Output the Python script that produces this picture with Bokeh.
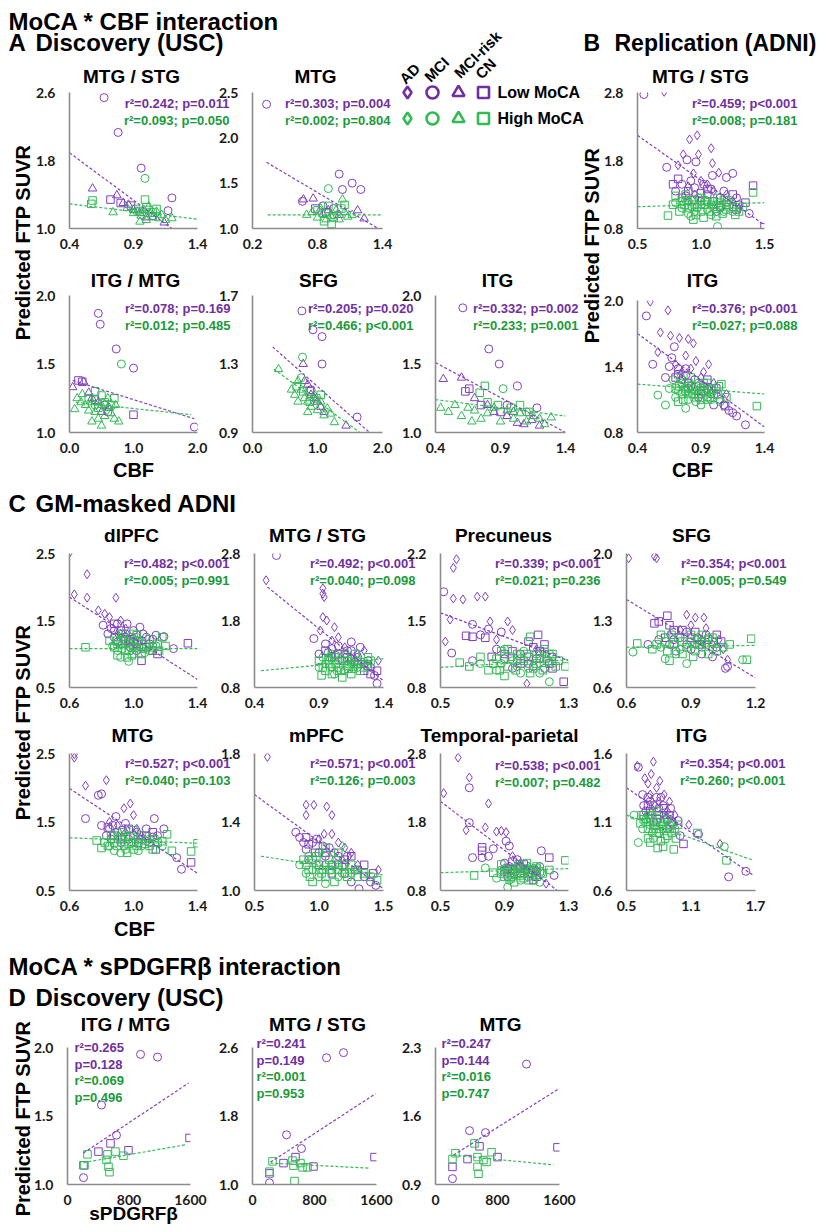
import math
from bokeh.plotting import figure
from bokeh.models import Range1d, FixedTicker, PrintfTickFormatter, Label
from bokeh.embed import file_html
from bokeh.resources import INLINE

# ---------------------------------------------------------------- data
# groups: lo = Low MoCA (purple), hi = High MoCA (green)
# classes: AD = diamond, MCI = circle, RISK = MCI-risk triangle, CN = square

# ---- A1  Discovery (USC)  MTG / STG
A1_lo_MCI = [(0.67,2.54),(0.78,2.13),(0.96,1.71),(1.20,1.36),(1.17,1.21),(1.05,1.15)]
A1_lo_RISK = [(0.58,1.47),(0.77,1.39),(0.82,1.30),(0.86,1.28),(0.95,1.18),(1.00,1.13),(1.14,1.07),(0.90,1.22)]
A1_lo_CN = [(0.72,1.34),(0.80,1.30),(0.88,1.27)]
A1_hi_MCI = [(0.99,1.59),(1.02,1.22)]
A1_hi_RISK = [(0.74,1.19),(0.85,1.24),(0.90,1.18),(0.93,1.20),(0.96,1.15),(0.98,1.22),(1.00,1.10),(1.03,1.17),
              (1.05,1.13),(1.08,1.20),(1.10,1.12),(1.12,1.16),(1.15,1.10),(1.20,1.12),(0.95,1.08),(1.02,1.26)]
A1_hi_CN = [(0.57,1.29),(0.58,1.33),(0.99,1.34),(0.95,1.20),(1.00,1.25),(1.05,1.19),(1.08,1.23),(0.92,1.23)]
A1_fit_lo = [(0.40,1.89),(1.20,1.00)]
A1_fit_hi = [(0.40,1.29),(1.40,1.11)]
A1_stats = ["r²=0.242; p=0.011", "r²=0.093; p=0.050"]

# ---- A2  Discovery (USC)  MTG
A2_lo_MCI = [(0.33,2.37),(1.00,1.60),(1.12,1.50),(1.03,1.43),(1.20,1.43),(0.66,1.30),(0.85,1.25),(0.95,1.22)]
A2_lo_RISK = [(0.67,1.32),(0.76,1.33),(1.17,1.20),(1.23,1.11),(0.90,1.20),(1.00,1.15)]
A2_lo_CN = [(0.78,1.22),(0.88,1.18)]
A2_hi_MCI = [(0.90,1.44),(0.95,1.15)]
A2_hi_RISK = [(1.03,1.32),(0.70,1.15),(0.75,1.18),(0.80,1.12),(0.85,1.16),(0.88,1.10),(0.92,1.14),(0.97,1.20),
              (1.00,1.10),(1.05,1.18),(1.08,1.13),(0.83,1.22),(1.12,1.15)]
A2_hi_CN = [(0.80,1.20),(0.90,1.25),(0.95,1.12),(1.02,1.22),(1.05,1.26),(0.86,1.08),(0.93,1.05)]
A2_fit_lo = [(0.33,1.73),(1.36,1.00)]
A2_fit_hi = [(0.34,1.15),(1.39,1.15)]
A2_stats = ["r²=0.303; p=0.004", "r²=0.002; p=0.804"]

# ---- A3  Discovery (USC)  ITG / MTG
A3_lo_MCI = [(0.45,1.87),(0.48,1.79),(0.73,1.61),(1.00,1.47),(1.95,1.04),(0.55,1.20),(0.60,1.15)]
A3_lo_RISK = [(0.22,1.37),(0.05,1.33),(0.30,1.29),(0.35,1.25),(0.45,1.22),(0.50,1.15),(0.62,1.18)]
A3_lo_CN = [(0.14,1.38),(0.20,1.37),(1.00,1.13),(0.40,1.24)]
A3_hi_MCI = [(0.81,1.50),(0.40,1.20)]
A3_hi_RISK = [(0.08,1.17),(0.77,1.08),(0.12,1.25),(0.18,1.22),(0.25,1.20),(0.30,1.16),(0.35,1.22),(0.40,1.15),
              (0.45,1.10),(0.50,1.20),(0.55,1.12),(0.60,1.18),(0.65,1.14),(0.70,1.10),(0.72,1.20),(0.35,1.08),
              (0.20,1.28),(0.60,1.25),(0.50,1.05)]
A3_hi_CN = [(0.30,1.25),(0.45,1.18),(0.55,1.22),(0.65,1.20),(0.70,1.25),(0.40,1.30),(0.50,1.27)]
A3_fit_lo = [(0.05,1.38),(1.95,1.10)]
A3_fit_hi = [(0.10,1.22),(1.90,1.13)]
A3_stats = ["r²=0.078; p=0.169", "r²=0.012; p=0.485"]

# ---- A4  Discovery (USC)  SFG
A4_lo_MCI = [(0.76,1.61),(0.93,1.50),(1.07,1.46),(1.07,1.30),(1.61,0.99),(0.90,1.15)]
A4_lo_RISK = [(0.78,1.30),(1.44,0.94),(0.80,1.20),(0.90,1.12),(1.00,1.08),(1.05,1.05),(0.85,1.18),(0.95,1.10),(1.10,1.02)]
A4_lo_CN = [(0.88,1.14)]
A4_hi_MCI = [(0.77,1.34),(0.75,1.22)]
A4_hi_RISK = [(0.40,1.27),(1.26,0.96),(0.60,1.15),(0.65,1.12),(0.70,1.20),(0.75,1.15),(0.80,1.10),(0.85,1.08),
              (0.90,1.05),(0.95,1.12),(1.00,1.03),(1.05,1.08),(1.10,1.00),(1.15,1.04),(1.20,1.01),(0.70,1.08),(0.85,1.02)]
A4_hi_CN = [(0.68,1.17),(0.78,1.14),(0.88,1.08),(0.98,1.10),(1.05,1.12)]
A4_fit_lo = [(0.31,1.40),(1.80,0.90)]
A4_fit_hi = [(0.33,1.27),(1.65,0.90)]
A4_stats = ["r²=0.205; p=0.020", "r²=0.466; p<0.001"]

# ---- A5  Discovery (USC)  ITG
A5_lo_MCI = [(0.61,1.91),(0.81,1.61),(0.89,1.50),(1.03,1.34),(1.18,1.18),(0.95,1.20)]
A5_lo_RISK = [(0.46,1.39),(0.60,1.40),(1.03,1.07),(1.08,1.06),(1.14,1.09),(0.70,1.25),(0.85,1.15),(0.95,1.12),
              (1.00,1.15),(0.80,1.20),(1.20,1.05)]
A5_lo_CN = [(0.63,1.30),(0.66,1.32),(0.75,1.20),(0.90,1.15)]
A5_hi_MCI = [(0.92,1.32),(1.10,1.15)]
A5_hi_RISK = [(0.44,1.18),(0.65,1.18),(1.24,1.06),(1.29,1.11),(0.50,1.15),(0.55,1.20),(0.60,1.12),(0.70,1.16),
              (0.75,1.10),(0.80,1.14),(0.85,1.18),(0.90,1.08),(0.95,1.16),(1.00,1.10),(1.05,1.14),(1.10,1.08),
              (1.15,1.12),(1.20,1.10),(0.68,1.08)]
A5_hi_CN = [(0.78,1.34),(0.74,1.29),(0.80,1.22),(0.88,1.20),(0.98,1.18),(1.05,1.20),(1.12,1.15)]
A5_fit_lo = [(0.40,1.51),(1.40,1.00)]
A5_fit_hi = [(0.40,1.24),(1.40,1.12)]
A5_stats = ["r²=0.332; p=0.002", "r²=0.233; p=0.001"]

# ---- B1  Replication (ADNI)  MTG / STG
B1_lo_AD = [(0.71,2.81),(0.97,2.17),(0.91,2.11),(1.08,1.98),(0.86,1.89),(0.98,1.89),(0.82,1.73),(1.09,1.76),
            (1.14,1.62),(0.94,1.61),(1.00,1.50),(1.05,1.45),(0.90,1.42),(1.20,1.30),(1.10,1.35),(0.95,1.30),
            (1.25,1.20),(1.30,1.10)]
B1_lo_MCI = [(0.55,2.77),(0.73,1.70),(0.89,1.81),(0.96,1.78),(1.09,1.58),(1.25,1.61),(1.20,1.55),(0.85,1.45),
             (0.95,1.40),(1.05,1.30),(1.15,1.25),(1.38,1.02),(1.00,1.20),(1.30,1.15),(1.12,1.05),
             (0.80,1.35),(0.92,1.50),(1.02,1.45),(1.08,1.38),(1.18,1.35),(1.28,1.25),(0.88,1.28)]
B1_lo_CN = [(0.82,1.53),(1.41,1.43),(1.50,0.82),(0.90,1.35),(1.00,1.32),(1.10,1.20),(1.20,1.15),(1.28,1.08),
            (0.85,1.25),(1.15,1.12),(0.78,1.45),(0.95,1.22),(1.05,1.38),(1.25,1.30),(1.35,1.18)]
B1_hi_MCI = [(1.13,0.83),(0.85,1.10),(0.90,1.20),(0.95,1.05),(1.00,1.15),(1.05,1.08),(1.10,1.20),(1.15,1.10),
             (1.20,1.18),(0.98,1.25),(1.08,1.00),(0.92,0.98),(1.25,1.05),
             (0.80,1.18),(0.88,1.22),(0.93,1.12),(1.03,1.22),(1.08,1.15),(1.12,1.15),(1.18,1.05),(1.22,1.22),(0.90,1.02)]
B1_hi_CN = [(1.41,1.33),(0.74,0.99),(0.94,0.93),(1.02,0.96),(1.12,0.98),(0.85,1.20),(0.90,1.10),(0.95,1.15),
            (1.00,1.05),(1.05,1.20),(1.10,1.12),(1.15,1.18),(1.20,1.08),(1.25,1.12),(1.30,1.05),(0.80,1.28),
            (0.88,1.30),(1.00,1.25),(1.18,1.22),(0.78,1.15),(0.83,1.05),(0.87,1.15),(0.93,1.22),(0.97,1.12),
            (1.03,1.15),(1.07,1.05),(1.13,1.25),(1.17,1.02),(1.22,1.15),(1.27,1.00),(1.33,1.12),(0.96,1.00)]
B1_fit_lo = [(0.50,2.17),(1.50,0.85)]
B1_fit_hi = [(0.50,1.12),(1.50,1.18)]
B1_stats = ["r²=0.459; p<0.001", "r²=0.008; p=0.181"]

# ---- B2  Replication (ADNI)  ITG
B2_lo_AD = [(0.50,1.99),(0.64,1.91),(0.58,1.71),(0.66,1.68),(0.73,1.66),(0.80,1.65),(0.84,1.61),(0.56,1.53),
            (0.86,1.45),(0.96,1.42),(0.82,1.38),(0.75,1.35),(0.90,1.30),(1.00,1.25),(1.10,1.15),(0.70,1.42),
            (0.92,1.35),(0.78,1.50)]
B2_lo_MCI = [(0.47,1.86),(0.69,1.58),(0.52,1.42),(0.67,1.48),(0.72,1.38),(0.78,1.32),(0.85,1.28),(0.92,1.22),
             (0.98,1.15),(1.05,1.10),(1.12,1.00),(1.25,0.87),(0.80,1.20),(0.88,1.12),(1.00,1.05),(1.18,0.95),(0.62,1.30),
             (0.75,1.28),(0.82,1.22),(0.90,1.15),(0.95,1.20),(1.08,1.05),(1.15,0.98),(0.65,1.40),(0.78,1.38)]
B2_lo_CN = [(1.09,1.04),(0.70,1.30),(0.72,1.33),(0.80,1.25),(0.90,1.18),(0.95,1.28),(1.02,1.20)]
B2_hi_MCI = [(0.56,1.14),(0.65,1.20),(0.70,1.12),(0.75,1.25),(0.80,1.10),(0.85,1.18),(0.90,1.05),(0.95,1.12),
             (1.00,1.18),(1.05,1.08),(0.68,1.28),(0.62,1.05),(0.78,1.02),(0.88,1.25),
             (0.72,1.18),(0.77,1.20),(0.83,1.15),(0.92,1.18),(0.98,1.10),(0.74,1.30),(0.86,1.08)]
B2_hi_CN = [(1.06,1.24),(1.34,1.04),(1.04,1.22),(0.70,1.20),(0.75,1.15),(0.80,1.22),(0.85,1.12),(0.90,1.20),
            (0.95,1.10),(1.00,1.15),(0.72,1.08),(0.82,1.30),(0.92,1.25),(0.98,1.20),(1.10,1.12),
            (0.73,1.22),(0.78,1.18),(0.83,1.20),(0.88,1.15),(0.93,1.18),(0.97,1.12),(1.03,1.15),(0.76,1.10),
            (0.86,1.22),(0.95,1.25),(0.80,1.15),(0.90,1.10)]
B2_fit_lo = [(0.40,1.70),(1.40,0.85)]
B2_fit_hi = [(0.40,1.24),(1.40,1.15)]
B2_stats = ["r²=0.376; p<0.001", "r²=0.027; p=0.088"]

# ---- C1  GM-masked ADNI  dlPFC
C1_lo_AD = [(0.60,2.51),(0.71,2.19),(0.63,1.89),(0.71,1.84),(0.89,1.84),(0.82,1.60),(0.85,1.55),(0.78,1.65),
            (0.92,1.50),(0.95,1.38),(0.90,1.30),(1.00,1.25)]
C1_lo_MCI = [(0.96,1.45),(0.81,1.43),(1.25,1.08),(1.19,1.26),(1.14,1.28),(1.06,1.30),(0.86,1.38),(0.90,1.45),
             (0.95,1.30),(1.00,1.35),(1.05,1.20),(0.88,1.25),(0.93,1.15),(0.98,1.10),(1.10,1.15),(0.84,1.30),(1.02,1.05),
             (0.88,1.35),(0.94,1.22),(1.00,1.18),(1.04,1.40),(1.12,1.22),(0.90,1.18),(1.08,1.25)]
C1_lo_CN = [(1.34,1.16),(1.05,0.90),(0.88,1.45),(0.92,1.35),(0.98,1.22),(1.08,1.10),(1.15,1.00),
            (0.95,1.20),(1.02,1.15),(1.12,1.05)]
C1_hi_MCI = [(0.97,0.89),(0.90,1.05),(0.95,1.15),(1.00,1.00),(1.05,1.10),(0.92,0.95),(1.10,1.05),(0.98,1.25),
             (0.87,1.12),(1.03,1.18),(0.93,1.08),(0.97,1.18),(1.02,1.10),(1.07,1.02),(1.14,1.12),(0.89,1.20)]
C1_hi_CN = [(0.70,1.10),(1.16,1.05),(1.18,1.25),(0.88,1.10),(0.92,1.20),(0.95,1.05),(1.00,1.12),(1.02,1.28),
            (1.05,1.00),(1.08,1.15),(1.12,1.10),(0.96,0.95),(0.90,0.98),(1.20,1.12),(0.85,1.20),(1.00,1.30),(0.94,1.25),
            (0.90,1.15),(0.97,1.05),(1.03,1.20),(1.06,1.08),(1.10,1.22),(1.15,1.15),(0.93,1.30),(0.99,0.98)]
C1_fit_lo = [(0.60,1.85),(1.40,0.62)]
C1_fit_hi = [(0.60,1.08),(1.40,1.08)]
C1_stats = ["r²=0.482; p<0.001", "r²=0.005; p=0.991"]

# ---- C2  GM-masked ADNI  MTG / STG
C2_lo_AD = [(0.49,2.40),(0.93,2.28),(0.93,2.20),(0.94,2.15),(0.93,1.85),(0.96,1.80),(0.91,1.65),(1.02,1.70),
            (1.36,1.20),(1.00,1.50),(1.10,1.40),(1.20,1.30),(1.25,1.35),(1.05,1.55)]
C2_lo_MCI = [(0.57,2.77),(0.86,1.53),(1.35,0.86),(0.95,1.45),(1.00,1.38),(1.05,1.42),(1.10,1.30),(1.15,1.35),
             (1.20,1.25),(0.90,1.30),(1.00,1.25),(1.08,1.20),(1.25,1.15),(1.30,1.10),(1.33,0.98),(1.15,1.48),
             (0.97,1.32),(1.03,1.28),(1.12,1.35),(1.18,1.18),(1.22,1.40),(1.28,1.20)]
C2_lo_CN = [(1.30,1.00),(1.28,1.12),(0.95,1.35),(1.12,1.25),(1.20,1.15),(1.35,1.05),(1.05,1.30),(1.15,1.22),(1.25,1.05)]
C2_hi_MCI = [(0.95,1.15),(1.00,1.10),(1.05,1.20),(1.10,1.05),(0.90,1.10),(1.15,1.15),(0.98,1.25),(1.20,1.10),(1.02,1.00),
             (0.93,1.25),(1.04,1.05),(1.12,1.20),(1.17,1.08),(1.23,1.18)]
C2_hi_CN = [(0.90,1.20),(0.95,1.05),(1.00,1.30),(1.05,1.10),(1.10,1.20),(1.15,1.00),(1.20,1.20),(1.25,1.10),
            (0.92,0.98),(1.30,1.20),(1.08,0.95),(1.00,1.00),(1.12,1.12),(1.18,1.30),(1.28,1.25),(0.98,1.15),
            (0.93,1.10),(0.97,1.22),(1.03,1.15),(1.07,1.05),(1.13,1.08),(1.17,1.15),(1.22,1.05),(1.27,1.15),
            (1.02,1.25),(1.10,1.30)]
C2_fit_lo = [(0.50,2.30),(1.40,0.90)]
C2_fit_hi = [(0.45,1.05),(1.40,1.23)]
C2_stats = ["r²=0.492; p<0.001", "r²=0.040; p=0.098"]

# ---- C3  GM-masked ADNI  Precuneus
C3_lo_AD = [(0.60,2.14),(0.58,2.05),(0.58,1.73),(0.64,1.72),(0.73,1.75),(0.78,1.75),(0.56,1.51),(0.53,1.28),
            (0.81,1.49),(0.92,1.49),(1.04,0.84),(0.95,1.40),(1.10,1.20),(0.85,1.30)]
C3_lo_MCI = [(0.52,1.80),(0.57,1.16),(0.70,1.46),(0.80,1.41),(0.75,1.35),(0.85,1.20),(0.90,1.10),(1.00,1.15),
             (1.05,1.05),(1.10,1.10),(1.15,1.00),(0.95,1.00),(0.70,1.08),(1.20,1.12),(0.88,1.38),
             (0.98,1.08),(1.08,1.02),(1.15,1.15)]
C3_lo_CN = [(0.66,1.34),(0.70,1.33),(0.78,1.32),(1.11,1.35),(1.27,0.86),(0.90,1.15),(1.00,1.05),(1.08,1.22),
            (1.20,1.00),(0.82,1.12),(1.15,1.25),(0.95,1.18),(1.05,1.12),(1.12,1.18),(1.18,1.05),(1.05,1.28)]
C3_hi_MCI = [(1.18,0.86),(0.85,0.98),(0.95,1.08),(1.05,1.00),(1.10,1.15),(1.20,1.05),(0.90,1.20),(1.00,0.95),(0.75,1.05),
             (0.88,1.05),(0.98,1.02),(1.08,1.10),(1.12,0.95),(1.16,1.10),(1.02,1.18)]
C3_hi_CN = [(1.06,1.33),(1.28,1.02),(0.62,1.06),(0.68,1.02),(0.75,1.12),(0.80,0.98),(0.85,1.10),(0.92,1.02),
            (0.98,1.15),(1.02,1.08),(1.08,1.00),(1.12,1.10),(1.18,1.15),(1.22,1.02),(0.90,0.92),(0.88,1.18),(1.15,1.20),
            (0.83,1.05),(0.87,0.98),(0.94,1.12),(0.97,0.98),(1.00,1.10),(1.04,1.15),(1.06,0.95),(1.10,1.05),
            (1.14,0.98),(1.17,1.08),(1.20,1.15),(1.24,1.08),(0.92,1.20)]
C3_fit_lo = [(0.50,1.58),(1.30,1.08)]
C3_fit_hi = [(0.50,1.01),(1.30,1.09)]
C3_stats = ["r²=0.339; p<0.001", "r²=0.021; p=0.236"]

# ---- C4  GM-masked ADNI  SFG
C4_lo_AD = [(0.61,1.95),(0.73,1.97),(0.74,1.95),(0.88,1.36),(0.92,1.33),(0.96,1.33),(1.07,0.89),(0.85,1.20),
            (0.95,1.10),(1.00,1.05),(0.90,1.25),(1.05,1.00),(0.80,1.15),(0.97,1.22),(1.03,1.10)]
C4_lo_MCI = [(1.06,0.80),(1.07,0.82),(0.75,1.10),(0.80,1.05),(0.85,1.12),(0.90,1.00),(0.95,0.95),(1.00,0.92),
             (0.88,1.18),(0.97,1.15),(0.83,0.98),(0.70,1.05),(0.82,1.10),(0.88,1.05),(0.93,1.12),(1.02,1.02)]
C4_lo_CN = [(0.73,1.27),(0.75,1.29),(0.79,1.35),(0.82,1.20),(0.90,1.12),(1.02,1.15),(0.78,1.12),(0.94,1.05),
            (0.80,1.25),(0.86,1.20),(0.92,1.18),(0.98,1.10),(1.04,1.08)]
C4_hi_MCI = [(0.63,0.97),(1.14,0.89),(0.85,1.00),(0.90,1.08),(0.95,1.02),(0.78,0.90),(1.00,1.00),(0.88,0.85),
             (0.76,1.02),(0.83,0.95),(0.92,1.05),(0.98,1.12)]
C4_hi_CN = [(0.65,1.06),(1.18,1.11),(1.16,0.89),(0.72,1.00),(0.78,1.08),(0.82,1.05),(0.86,0.95),(0.90,1.15),
            (0.95,1.08),(1.00,1.12),(1.05,1.02),(0.92,0.98),(0.80,0.88),(1.08,1.05),(0.76,1.15),(0.98,0.95),
            (0.74,1.05),(0.79,0.98),(0.84,1.12),(0.88,1.02),(0.93,1.10),(0.97,1.05),(1.02,0.98),(0.81,1.15),
            (0.86,1.08),(0.91,0.92),(0.95,1.15),(1.00,1.08)]
C4_fit_lo = [(0.60,1.52),(1.20,0.70)]
C4_fit_hi = [(0.60,1.02),(1.20,1.04)]
C4_stats = ["r²=0.354; p<0.001", "r²=0.005; p=0.549"]

# ---- C5  GM-masked ADNI  MTG
C5_lo_AD = [(0.63,2.49),(0.63,2.44),(0.70,2.03),(0.83,2.11),(0.94,1.70),(0.98,1.77),(1.00,1.60),(0.90,1.45),
            (1.02,1.40),(0.95,1.35),(1.05,1.30),(0.85,1.50)]
C5_lo_MCI = [(0.78,1.89),(0.80,1.91),(0.70,1.55),(0.89,1.58),(1.13,1.55),(1.19,1.40),(1.27,0.98),(1.30,0.81),
             (0.85,1.40),(0.90,1.35),(0.95,1.48),(1.00,1.30),(1.05,1.25),(1.10,1.20),(0.83,1.30),(0.92,1.20),
             (1.15,1.30),(0.80,1.45),(0.87,1.45),(0.93,1.38),(0.97,1.25),(1.02,1.35),(1.08,1.40),(1.12,1.28),(0.86,1.25)]
C5_lo_CN = [(1.36,0.91),(1.14,1.10),(0.88,1.30),(0.97,1.40),(1.08,1.30),(0.84,1.42),(0.93,1.25),(1.03,1.20),(1.12,1.35)]
C5_hi_MCI = [(0.85,1.15),(0.90,1.25),(0.95,1.10),(1.00,1.20),(1.05,1.15),(1.10,1.25),(0.92,1.05),(1.18,1.15),
             (0.98,1.30),(0.88,1.08),(0.87,1.30),(0.94,1.15),(1.03,1.08),(1.08,1.22),(0.99,1.20)]
C5_hi_CN = [(0.77,1.23),(1.21,1.32),(1.24,1.08),(1.36,1.07),(1.40,1.19),(0.82,1.20),(0.86,1.30),(0.90,1.15),
            (0.95,1.28),(1.00,1.10),(1.03,1.25),(1.07,1.18),(1.12,1.10),(1.15,1.20),(0.93,1.35),(1.00,1.38),(0.80,1.12),
            (0.88,1.20),(0.92,1.28),(0.97,1.18),(1.02,1.15),(1.05,1.30),(1.10,1.15),(1.13,1.25),(0.84,1.15),
            (0.96,1.05),(1.18,1.22)]
C5_fit_lo = [(0.60,1.99),(1.40,0.75)]
C5_fit_hi = [(0.60,1.27),(1.40,1.19)]
C5_stats = ["r²=0.527; p<0.001", "r²=0.040; p=0.103"]

# ---- C6  GM-masked ADNI  mPFC
C6_lo_AD = [(0.60,1.78),(0.90,1.50),(0.96,1.50),(1.06,1.49),(0.90,1.44),(1.10,1.44),(1.04,1.33),(1.10,1.33),
            (1.46,1.12),(1.20,1.25),(1.25,1.22),(1.30,1.15),(1.00,1.30),(1.15,1.28)]
C6_lo_MCI = [(0.82,1.34),(0.85,1.31),(1.31,1.01),(1.44,1.03),(0.95,1.28),(1.00,1.22),(1.05,1.20),(1.10,1.15),
             (1.15,1.20),(1.20,1.10),(1.25,1.05),(0.92,1.18),(1.35,1.08),(1.40,1.05),(1.08,1.25),
             (0.90,1.24),(0.98,1.30),(1.03,1.26),(1.12,1.22),(1.18,1.14),(1.28,1.12),(1.22,1.20),(0.88,1.28)]
C6_lo_CN = [(0.92,1.27),(0.90,1.31),(1.00,1.15),(1.10,1.10),(1.20,1.18),(1.30,1.12),(1.42,1.10),(0.97,1.22),
            (1.05,1.22),(1.15,1.15),(1.25,1.20),(1.35,1.15)]
C6_hi_AD = [(1.18,1.26)]
C6_hi_MCI = [(1.05,1.04),(0.85,1.15),(0.95,1.12),(1.00,1.08),(1.05,1.15),(1.10,1.12),(1.15,1.08),(0.90,1.10),
             (1.20,1.15),(1.25,1.10),(0.92,1.20),(0.98,1.15),(1.03,1.12),(1.13,1.18),(1.18,1.10)]
C6_hi_CN = [(0.88,1.18),(0.92,1.12),(0.98,1.20),(1.02,1.10),(1.08,1.18),(1.12,1.05),(1.18,1.15),(1.22,1.08),
            (1.28,1.12),(1.35,1.10),(1.40,1.08),(1.45,1.06),(0.95,1.05),(1.05,1.25),(1.15,1.22),
            (0.90,1.15),(0.95,1.18),(1.00,1.12),(1.05,1.08),(1.10,1.15),(1.15,1.12),(1.20,1.10),(1.25,1.15),
            (1.30,1.08),(1.00,1.22),(0.93,1.08),(1.08,1.12)]
C6_fit_lo = [(0.50,1.56),(1.50,1.01)]
C6_fit_hi = [(0.55,1.20),(1.50,1.09)]
C6_stats = ["r²=0.571; p<0.001", "r²=0.126; p=0.003"]

# ---- C7  GM-masked ADNI  Temporal-parietal
C7_lo_AD = [(0.61,2.74),(0.68,2.45),(0.52,2.22),(0.80,2.07),(0.66,1.68),(0.78,1.72),(0.85,1.66),(0.88,1.67),
            (0.91,1.65),(1.16,0.90),(0.95,1.30),(1.00,1.20),(1.05,1.15),(1.10,1.10)]
C7_lo_MCI = [(0.68,2.30),(0.68,1.79),(0.91,1.52),(0.93,1.45),(0.83,1.41),(0.70,1.28),(0.76,1.28),(0.80,1.30),
             (1.13,1.38),(1.21,1.02),(0.90,1.20),(0.95,1.10),(1.00,1.05),(1.05,1.00),(1.10,1.08),(0.98,1.25),
             (1.08,0.95),(0.92,1.00),(0.93,1.15),(1.00,1.15),(1.03,1.10),(1.07,1.05),(0.96,1.05),(1.12,1.15)]
C7_lo_CN = [(0.76,1.43),(0.76,1.38),(1.18,1.28),(0.95,1.22),(1.00,1.12),(1.05,1.05),(1.10,1.00),(0.90,1.08),
            (0.92,1.12),(1.02,1.18),(1.08,1.10)]
C7_hi_MCI = [(0.92,0.85),(0.78,1.13),(0.88,1.10),(0.95,1.00),(1.00,0.95),(1.05,1.10),(1.10,1.02),(0.85,0.98),
             (1.12,0.92),(0.98,1.15),(0.90,1.12),(0.97,1.08),(1.02,1.05),(1.08,1.12),(1.13,1.05),(0.93,0.95)]
C7_hi_CN = [(1.28,1.24),(0.71,1.02),(0.83,1.06),(0.90,1.00),(0.94,1.10),(0.98,1.05),(1.02,0.98),(1.06,1.08),
            (1.10,1.15),(1.14,1.05),(1.18,1.10),(0.96,0.92),(1.04,1.20),(1.08,0.95),(0.88,1.18),
            (0.92,1.05),(0.96,1.12),(1.00,1.02),(1.03,1.12),(1.07,1.02),(1.12,1.08),(0.94,0.98),(0.99,1.18),
            (1.05,0.95),(1.10,1.12),(0.88,1.05)]
C7_fit_lo = [(0.50,2.10),(1.23,0.80)]
C7_fit_hi = [(0.50,1.06),(1.30,1.12)]
C7_stats = ["r²=0.538; p<0.001", "r²=0.007; p=0.482"]

# ---- C8  GM-masked ADNI  ITG
C8_lo_AD = [(0.75,1.54),(0.60,1.51),(0.73,1.45),(0.81,1.40),(0.70,1.38),(0.67,1.42),(0.78,1.35),(0.85,1.30),
            (1.08,1.08),(1.37,0.94),(0.90,1.25),(0.95,1.15),(0.72,1.30),(0.80,1.25),(0.88,1.18)]
C8_lo_MCI = [(0.61,1.50),(0.91,1.20),(0.98,1.11),(1.17,1.01),(1.61,0.74),(1.45,0.70),(0.65,1.30),(0.72,1.25),
             (0.80,1.20),(0.85,1.15),(0.75,1.10),(0.88,1.05),(0.68,1.18),(0.82,1.28),(1.00,1.00),
             (0.70,1.28),(0.75,1.22),(0.78,1.28),(0.84,1.22),(0.90,1.15),(0.93,1.08),(0.66,1.22)]
C8_lo_CN = [(1.03,0.94),(0.70,1.22),(0.78,1.12),(0.85,1.20),(0.92,1.10),(0.66,1.15),(0.72,1.18),(0.80,1.15),(0.88,1.12)]
C8_hi_MCI = [(0.61,0.95),(0.57,1.15),(1.41,0.92),(0.65,1.05),(0.72,1.08),(0.80,1.02),(0.88,1.12),(0.75,0.98),(0.95,1.05),
             (0.68,1.12),(0.74,1.02),(0.78,1.10),(0.84,1.05),(0.90,1.08),(0.70,1.15)]
C8_hi_CN = [(0.63,1.09),(1.16,1.02),(1.43,0.82),(0.79,0.91),(0.94,0.90),(0.66,1.12),(0.70,1.05),(0.74,1.15),
            (0.78,1.02),(0.82,1.10),(0.86,0.98),(0.90,1.05),(0.84,0.92),(0.72,0.95),(0.98,1.08),
            (0.68,1.10),(0.72,1.12),(0.76,1.08),(0.80,1.05),(0.84,1.08),(0.88,1.00),(0.92,1.02),(0.70,0.98),
            (0.75,1.05),(0.82,0.96),(0.86,1.12),(0.78,1.18),(0.64,1.15),(0.96,0.98)]
C8_fit_lo = [(0.50,1.35),(1.68,0.71)]
C8_fit_hi = [(0.50,1.15),(1.68,0.82)]
C8_stats = ["r²=0.354; p<0.001", "r²=0.260; p<0.001"]

# ---- D1  sPDGFRb Discovery (USC)  ITG / MTG
D1_lo_MCI = [(950,1.95),(1171,1.93),(442,1.58),(637,1.36),(208,1.05)]
D1_lo_CN = [(1587,1.34),(793,1.25),(403,1.24),(559,1.30),(208,1.14)]
D1_hi_CN = [(260,1.22),(624,1.24),(728,1.21),(520,1.22),(507,1.18),(533,1.13),(546,1.09),(221,1.14)]
D1_fit_lo = [(208,1.23),(1574,1.74)]
D1_fit_hi = [(208,1.16),(1535,1.29)]
D1_stats = ["r²=0.265", "p=0.128", "r²=0.069", "p=0.496"]

# ---- D2  sPDGFRb Discovery (USC)  MTG / STG
D2_lo_MCI = [(1174,2.54),(955,2.48),(439,1.58),(632,1.42),(219,1.02)]
D2_lo_CN = [(1574,1.32),(787,1.21),(400,1.25),(555,1.32),(219,1.13)]
D2_hi_CN = [(258,1.27),(516,1.28),(529,1.22),(619,1.25),(645,1.20),(710,1.20),(542,1.04),(219,1.15)]
D2_fit_lo = [(232,1.26),(1587,2.06)]
D2_fit_hi = [(232,1.25),(1523,1.19)]
D2_stats = ["r²=0.241", "p=0.149", "r²=0.001", "p=0.953"]

# ---- D3  sPDGFRb Discovery (USC)  MTG
D3_lo_MCI = [(1174,2.13),(439,1.45),(645,1.43),(219,0.96)]
D3_lo_CN = [(1574,1.28),(568,1.29),(413,1.16),(800,1.18),(219,1.08)]
D3_hi_CN = [(503,1.32),(258,1.22),(723,1.23),(542,1.18),(619,1.15),(658,1.13),(542,1.08),(555,1.01),(219,1.16)]
D3_fit_lo = [(232,1.20),(1574,1.87)]
D3_fit_hi = [(232,1.20),(1523,1.10)]
D3_stats = ["r²=0.247", "p=0.144", "r²=0.016", "p=0.747"]

# tick values (x ticks, y ticks)
TICKS = {
    "A1": ([0.4, 0.9, 1.4], [1.0, 1.8, 2.6]),
    "A2": ([0.2, 0.8, 1.4], [1.0, 1.5, 2.0, 2.5]),
    "A3": ([0.0, 1.0, 2.0], [1.0, 1.5, 2.0]),
    "A4": ([0.0, 1.0, 2.0], [0.9, 1.3, 1.7]),
    "A5": ([0.4, 0.9, 1.4], [1.0, 1.5, 2.0]),
    "B1": ([0.5, 1.0, 1.5], [0.8, 1.8, 2.8]),
    "B2": ([0.4, 0.9, 1.4], [0.8, 1.4, 2.0]),
    "C1": ([0.6, 1.0, 1.4], [0.5, 1.5, 2.5]),
    "C2": ([0.4, 0.9, 1.4], [0.8, 1.8, 2.8]),
    "C3": ([0.5, 0.9, 1.3], [0.8, 1.5, 2.2]),
    "C4": ([0.6, 0.9, 1.2], [0.6, 1.3, 2.0]),
    "C5": ([0.6, 1.0, 1.4], [0.5, 1.5, 2.5]),
    "C6": ([0.5, 1.0, 1.5], [1.0, 1.4, 1.8]),
    "C7": ([0.5, 0.9, 1.3], [0.8, 1.8, 2.8]),
    "C8": ([0.5, 1.1, 1.7], [0.6, 1.1, 1.6]),
    "D1": ([0, 800, 1600], [1.0, 1.5, 2.0]),
    "D2": ([0, 800, 1600], [1.0, 1.8, 2.6]),
    "D3": ([0, 800, 1600], [0.9, 1.6, 2.3]),
}
TITLES = {"A1": "MTG / STG", "A2": "MTG", "A3": "ITG / MTG", "A4": "SFG", "A5": "ITG",
          "B1": "MTG / STG", "B2": "ITG",
          "C1": "dlPFC", "C2": "MTG / STG", "C3": "Precuneus", "C4": "SFG",
          "C5": "MTG", "C6": "mPFC", "C7": "Temporal-parietal", "C8": "ITG",
          "D1": "ITG / MTG", "D2": "MTG / STG", "D3": "MTG"}
CLASSES = ["AD", "MCI", "RISK", "CN"]

# ---------------------------------------------------------------- layout / style
W, H = 821, 1216
OFF = 8  # page margin: reference pixel -> canvas pixel
PURPLE, GREEN = "#8040C0", "#33BB55"
PURPLE_T, GREEN_T = "#7030A0", "#1A9A3A"
AXIS_C = "#8C8C8C"
ARIAL = "Liberation Sans"
MARK = {"AD": ("diamond", 9), "MCI": ("circle", 8), "RISK": ("triangle", 8.5), "CN": ("square", 7.5)}
POS = {"position": "absolute", "left": "8px", "top": "8px"}

# frame (left, right, top, bottom) in reference pixels; title centre; stats anchor
GEOM = {
    "A1": ((69, 197, 92, 228), (131, 76), (229, 103, "right")),
    "A2": ((252, 382, 92, 228), (315, 76), (390, 103, "right")),
    "A3": ((69, 197, 295, 432), (135, 280), (230, 308, "right")),
    "A4": ((252, 382, 295, 432), (318, 280), (413, 308, "right")),
    "A5": ((435, 565, 295, 432), (497, 280), (578, 308, "right")),
    "B1": ((637, 764, 92, 228), (700, 76), (797, 103, "right")),
    "B2": ((637, 764, 300, 432), (702, 280), (797, 308, "right")),
    "C1": ((69, 197, 553, 687), (131, 535), (229, 563, "right")),
    "C2": ((254, 383, 553, 687), (317, 535), (415, 563, "right")),
    "C3": ((440, 568, 553, 687), (503, 535), (600, 563, "right")),
    "C4": ((626, 755, 553, 687), (691, 535), (786, 563, "right")),
    "C5": ((69, 197, 753, 890), (132, 735), (230, 763, "right")),
    "C6": ((254, 383, 753, 890), (316, 735), (415, 763, "right")),
    "C7": ((440, 568, 753, 890), (499, 735), (600, 765, "right")),
    "C8": ((626, 755, 753, 890), (691, 735), (785, 763, "right")),
    "D1": ((67, 190, 1047, 1184), (125, 1024), (74, 1047, "left")),
    "D2": ((252, 376, 1047, 1184), (317, 1024), (256, 1043, "left")),
    "D3": ((435, 559, 1047, 1184), (500, 1024), (441, 1043, "left")),
}

# ---------------------------------------------------------------- background (texts)
bg = figure(width=W, height=H, x_range=Range1d(0, W), y_range=Range1d(H, 0),
            output_backend="svg", toolbar_location=None, min_border=0,
            x_axis_location=None, y_axis_location=None, styles=dict(POS))
bg.grid.visible = False
bg.outline_line_color = None
bg.background_fill_color = None
bg.border_fill_color = None


def txt(x, y, s, size, color="#000000", align="left", angle=0.0, font=ARIAL):
    bg.add_layout(Label(x=x - OFF, y=y - OFF, text=s, text_font=font, text_font_size=f"{size}px",
                        text_font_style="bold", text_color=color, text_align=align,
                        text_baseline="middle", angle=angle))


# section headings
txt(8, 21, "MoCA * CBF interaction", 24)
txt(8, 42, "A", 24)
txt(35, 42, "Discovery (USC)", 24)
txt(583, 42, "B", 23)
txt(614, 42, "Replication (ADNI)", 23)
txt(8, 503, "C", 24)
txt(35, 503, "GM-masked ADNI", 24)
txt(8, 966, "MoCA * sPDGFRβ interaction", 24)
txt(8, 997, "D", 24)
txt(35, 997, "Discovery (USC)", 24)

# axis titles
for (x, y) in [(22, 242), (591, 245), (22, 722), (22, 1118)]:
    txt(x, y, "Predicted FTP SUVR", 20, align="center", angle=math.pi / 2)
for (x, y) in [(133, 469), (692, 469), (134, 928)]:
    txt(x, y, "CBF", 20, align="center")
txt(133, 1213, "sPDGRFβ", 19, align="center")

# legend
LEG_X = {"AD": 407, "MCI": 432, "RISK": 458, "CN": 483}
for grp, yy, col in [("lo", 92, PURPLE_T), ("hi", 118, GREEN)]:
    for cls in CLASSES:
        mk, _ = MARK[cls]
        bg.scatter(x=[LEG_X[cls] - OFF], y=[yy - OFF], marker=mk, size=12 if cls != "CN" else 11,
                   fill_color=None, line_color=col, line_width=2.6)
txt(497, 92, "Low MoCA", 16)
txt(497, 118, "High MoCA", 16)
for s, (x, y) in [("AD", (409, 73)), ("MCI", (436, 69)), ("MCI-risk", (477, 54)), ("CN", (485, 68))]:
    txt(x, y, s, 15, align="center", angle=math.pi / 4)

# panel titles and statistics texts
for key, (frame, tpos, spos) in GEOM.items():
    txt(tpos[0], tpos[1], TITLES[key], 19, align="center")
    stats = globals()[f"{key}_stats"]
    sx, sy, al = spos
    for i, s in enumerate(stats):
        col = PURPLE_T if i < len(stats) / 2 else GREEN_T
        txt(sx, sy + i * 16.5, s, 13, color=col, align=al)


# ---------------------------------------------------------------- panels
def make_panel(key):
    (l, r, t, b), _, _ = GEOM[key]
    xt, yt = TICKS[key]
    p = figure(width=W, height=H,
               x_range=Range1d(xt[0], xt[-1]), y_range=Range1d(yt[0], yt[-1]),
               output_backend="svg", toolbar_location=None,
               min_border_left=l - OFF, min_border_right=W - (r - OFF),
               min_border_top=t - OFF, min_border_bottom=H - (b - OFF),
               styles=dict(POS))
    p.background_fill_color = None
    p.border_fill_color = None
    p.outline_line_color = None
    p.grid.visible = False
    for ax in (p.xaxis[0], p.yaxis[0]):
        ax.axis_line_color = AXIS_C
        ax.axis_line_width = 1.6
        ax.major_tick_line_color = None
        ax.minor_tick_line_color = None
        ax.major_tick_out = 0
        ax.major_tick_in = 0
        ax.minor_tick_out = 0
        ax.minor_tick_in = 0
        ax.major_label_text_font = "Lato"
        ax.major_label_text_font_style = "bold"
        ax.major_label_text_font_size = "14px"
        ax.major_label_text_color = "#1a1a1a"
    p.xaxis[0].ticker = FixedTicker(ticks=xt)
    p.yaxis[0].ticker = FixedTicker(ticks=yt)
    p.xaxis[0].formatter = PrintfTickFormatter(format="%d" if key.startswith("D") else "%.1f")
    p.yaxis[0].formatter = PrintfTickFormatter(format="%.1f")
    p.xaxis[0].major_label_standoff = 10
    p.yaxis[0].major_label_standoff = 14

    for grp, col in (("lo", PURPLE), ("hi", GREEN)):
        for cls in CLASSES:
            pts = globals().get(f"{key}_{grp}_{cls}", [])
            if not pts:
                continue
            mk, sz = MARK[cls]
            p.scatter(x=[q[0] for q in pts], y=[q[1] for q in pts], marker=mk, size=sz,
                      fill_color=None, line_color=col, line_width=1.0)
    for grp, col in (("lo", PURPLE), ("hi", GREEN)):
        fit = globals()[f"{key}_fit_{grp}"]
        p.line(x=[q[0] for q in fit], y=[q[1] for q in fit], line_color=col,
               line_width=1.2, line_dash="3 2")
    return p


panels = [make_panel(k) for k in GEOM]

# every figure is its own root, stacked at the same place on the page
open("out.html", "w").write(file_html([bg] + panels, INLINE))
